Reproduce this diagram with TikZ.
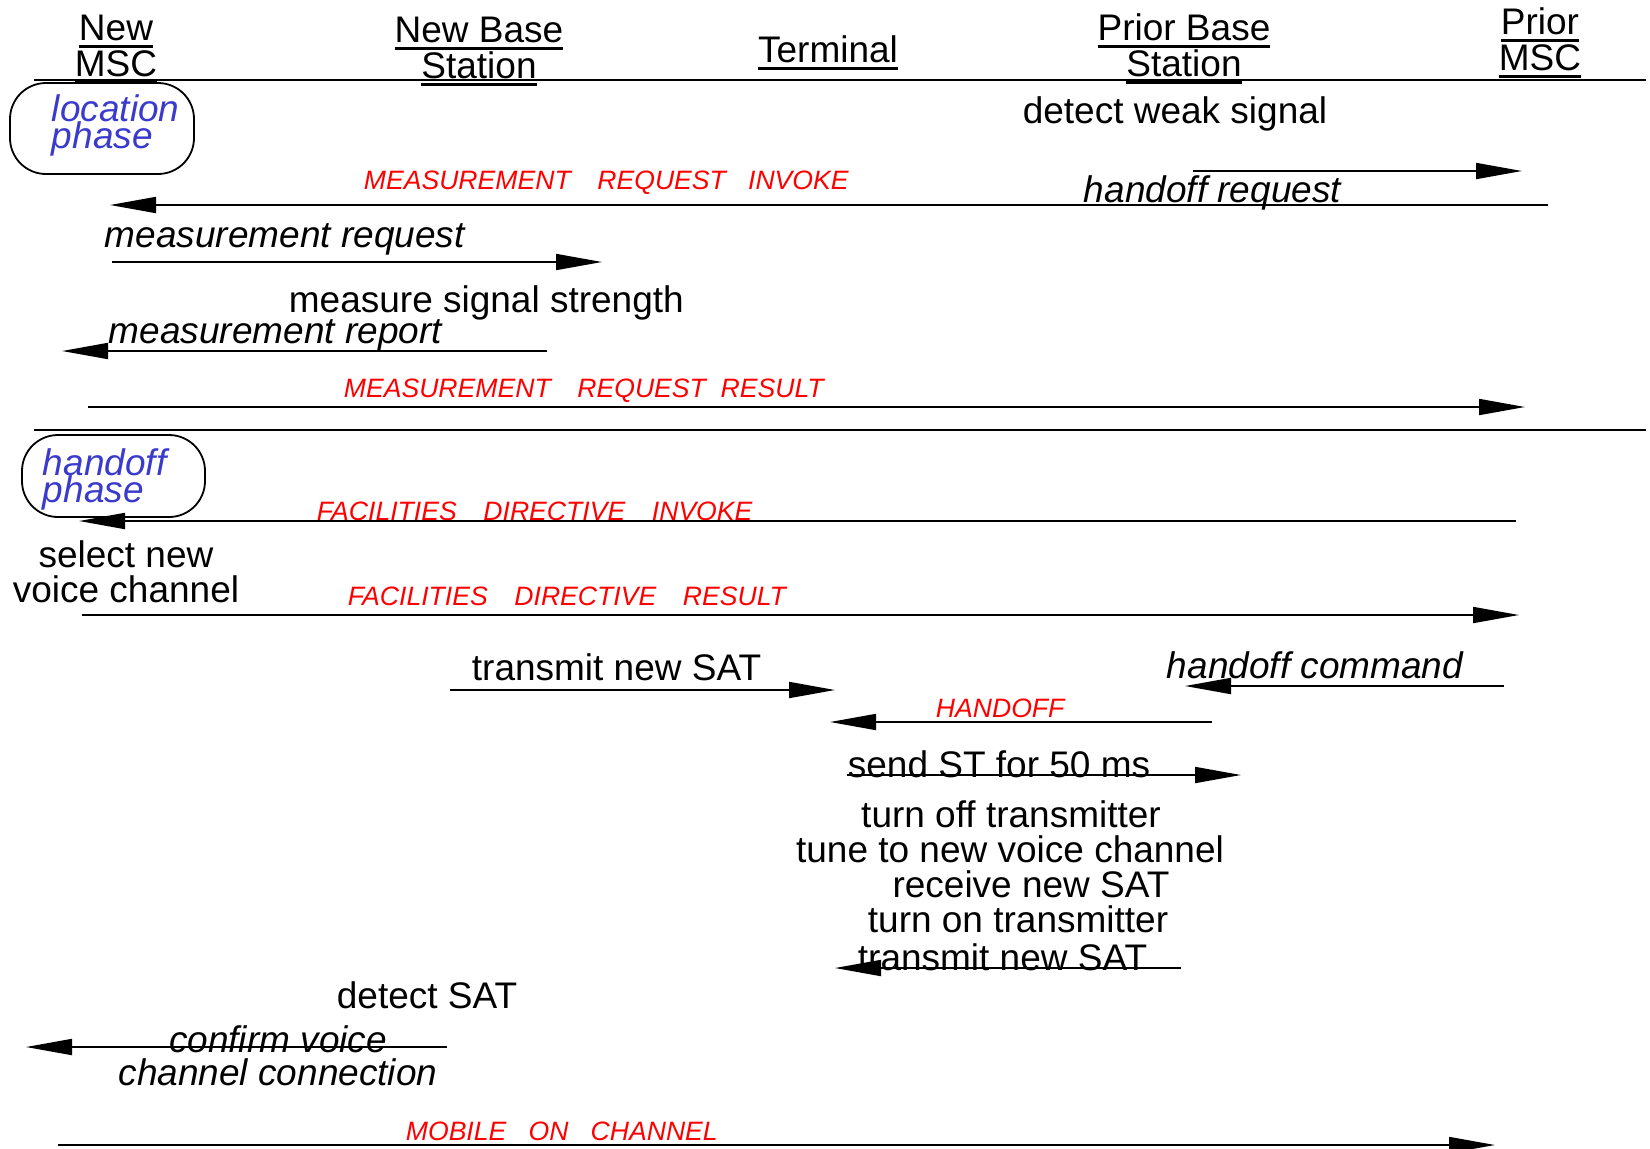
\documentclass[tikz,border=0pt]{standalone}
\usepackage{fontspec}
\setmainfont{Liberation Sans}
\usepackage{tikz}
\usetikzlibrary{arrows.meta, positioning, graphs}
\definecolor{phaseblue}{RGB}{58,58,204}
\newcommand{\ulhead}[1]{\leavevmode\vtop{\hbox{#1}\kern2.5pt\hrule height 1.2pt}}
\tikzset{
>={Triangle[length=23pt,width=8pt]},
every node/.style={inner sep=0pt},
head/.style={%
    align=center, anchor=base,
    font=\fontsize{18.5}{18}\selectfont
},
action/.style={%
    anchor=base west,
    font=\fontsize{18.5}{17.5}\selectfont
},
msg/.style={%
    action, font=\fontsize{18.5}{16.5}\selectfont\itshape
},
sig/.style={%
    anchor=base west, text=red,
    font=\fontsize{13.3}{15}\selectfont\itshape
},
phasebox/.style={%
    rectangle, rounded corners=18pt, draw=black
},
phase/.style={%
    anchor=base west, align=left, text=phaseblue,
    font=\fontsize{18.5}{13.5}\selectfont\itshape
},
junction/.style={coordinate},
}

\begin{document}
\lineskiplimit=-20pt
\begin{tikzpicture}[x=0.5pt, y=-0.5pt, line width=0.9pt]
	\useasboundingbox (0,0) rectangle (1650,1148);
	% header
	\node[head] at (116,76) (newmsc) {\ulhead{New}\\\ulhead{MSC}};
	\node[head] at (479,78) (newbs) {\ulhead{New Base}\\\ulhead{Station}};
	\node[head] at (828,62) (term) {\ulhead{Terminal}};
	\node[head] at (1184,76) (priorbs) {\ulhead{Prior Base}\\\ulhead{Station}};
	\node[head] at (1540,70) (priormsc) {\ulhead{Prior}\\\ulhead{MSC}};
	\node[junction] at (34,80) (h1) {};
	\node[junction] at (1646,80) (h2) {};

	% location phase
	\node[phasebox, minimum width=92pt, minimum height=45.5pt] at (102,128.5) (locbox) {};
	\node[phase] at (51,148) (loc) {location\\phase};
	\node[action, anchor=base] at (1175,123) (weak) {detect weak signal};
	\node[sig] at (363,189) (mri) {MEASUREMENT\quad REQUEST~~~INVOKE};
	\node[msg] at (1083,202) (hreq) {handoff request};
	\node[msg] at (104,247) (mreq) {measurement request};
	\node[action] at (288,312) (measure) {measure signal strength};
	\node[msg] at (108,343) (mrep) {measurement report};
	\node[sig] at (343,397) (mrr) {MEASUREMENT\quad REQUEST~~RESULT};
	\node[junction] at (34,430) (h3) {};
	\node[junction] at (1646,430) (h4) {};

	% handoff phase
	\node[phasebox, minimum width=91.5pt, minimum height=41pt] at (113.5,476) (hobox) {};
	\node[phase] at (42,502) (ho) {handoff\\phase};
	\node[sig] at (316,520) (fdi) {FACILITIES\quad DIRECTIVE\quad INVOKE};
	\node[action, anchor=base, align=center] at (126,602) (select) {select new\\voice channel};
	\node[sig] at (347,605) (fdr) {FACILITIES\quad DIRECTIVE\quad RESULT};
	\node[action] at (471,680) (sat1) {transmit new SAT};
	\node[msg] at (1166,678) (hcmd) {handoff command};
	\node[sig] at (935,717) (hand) {HANDOFF};
	\node[action] at (847,777) (st) {send ST for 50 ms};
	\node[action, anchor=base] at (1011,827) (off) {turn off transmitter};
	\node[action, anchor=base] at (1010,862) (tune) {tune to new voice channel};
	\node[action, anchor=base] at (1031,897) (recv) {receive new SAT};
	\node[action, anchor=base] at (1018,932) (on) {turn on transmitter};
	\node[action] at (857,970) (sat2) {transmit new SAT};
	\node[action, anchor=base] at (427,1008) (detsat) {detect SAT};
	\node[msg, anchor=base, align=center] at (278,1085) (confirm) {confirm voice\\channel connection};
	\node[sig] at (405,1140) (moc) {MOBILE~~~ON~~~CHANNEL};

	\node[junction] at (1193,171) (p1) {};
	\node[junction] at (1522,171) (p2) {};
	\node[junction] at (1548,205) (p3) {};
	\node[junction] at (110,205) (p4) {};
	\node[junction] at (112,262) (p5) {};
	\node[junction] at (602,262) (p6) {};
	\node[junction] at (547,351) (p7) {};
	\node[junction] at (62,351) (p8) {};
	\node[junction] at (88,407) (p9) {};
	\node[junction] at (1525,407) (p10) {};
	\node[junction] at (1516,521) (p11) {};
	\node[junction] at (79,521) (p12) {};
	\node[junction] at (82,615) (p13) {};
	\node[junction] at (1519,615) (p14) {};
	\node[junction] at (450,690) (p15) {};
	\node[junction] at (835,690) (p16) {};
	\node[junction] at (1504,686) (p17) {};
	\node[junction] at (1185,686) (p18) {};
	\node[junction] at (1212,722) (p19) {};
	\node[junction] at (830,722) (p20) {};
	\node[junction] at (847,775) (p21) {};
	\node[junction] at (1241,775) (p22) {};
	\node[junction] at (1181,968) (p23) {};
	\node[junction] at (835,968) (p24) {};
	\node[junction] at (447,1047) (p25) {};
	\node[junction] at (26,1047) (p26) {};
	\node[junction] at (58,1145) (p27) {};
	\node[junction] at (1495,1145) (p28) {};

	\graph [use existing nodes] {
	h1 -- h2; h3 -- h4;
	p1 -> p2; p3 -> p4; p5 -> p6; p7 -> p8;
	p9 -> p10; p11 -> p12; p13 -> p14;
	p15 -> p16; p17 -> p18; p19 -> p20; p21 -> p22;
	p23 -> p24; p25 -> p26; p27 -> p28;
	};

\end{tikzpicture}
\end{document}
